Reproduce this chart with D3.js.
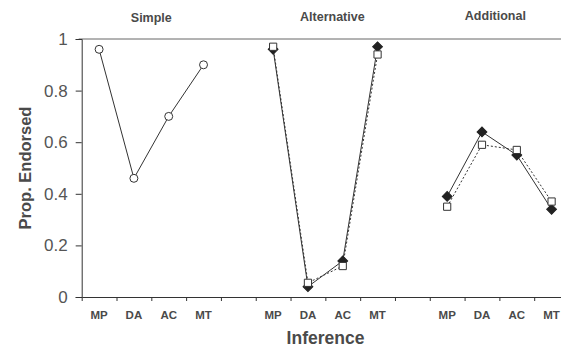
<!DOCTYPE html>
<html>
<head>
<meta charset="utf-8">
<script src="https://cdn.jsdelivr.net/npm/d3@7"></script>
<style>
  body { margin: 0; background: #fff; }
  svg { display: block; font-family: "Liberation Sans", Arial, sans-serif; }
</style>
</head>
<body>
<div id="chart"></div>
<script>
// data
const groups = ["Simple", "Alternative", "Additional"];
const inferences = ["MP", "DA", "AC", "MT"];
const yTicks = [0, 0.2, 0.4, 0.6, 0.8, 1];

const simpleVals = [0.96, 0.46, 0.70, 0.90];
const altDiamond = [0.96, 0.04, 0.14, 0.97];
const altSquare = [0.97, 0.055, 0.12, 0.94];
const addDiamond = [0.39, 0.64, 0.55, 0.34];
const addSquare = [0.35, 0.59, 0.57, 0.37];

const width = 561, height = 349;
const margin = { top: 39, left: 81.7, bottom: 52 };
const plotRight = 569;   // last slot runs past the picture edge

const svg = d3.select('#chart').append('svg')
    .attr('width', width)
    .attr('height', height);

// 3 groups x 4 inferences with one empty slot between groups
const slots = d3.range(groups.length * 5 - 1);
const x = d3.scaleBand().domain(slots).range([margin.left, plotRight]).padding(0);
const xEdge = d3.scaleLinear().domain([0, slots.length]).range([margin.left, plotRight]);
const y = d3.scaleLinear().domain([0, 1]).range([height - margin.bottom, margin.top]);

const slotOf = (g, i) => g * 5 + i;
const cx = (g, i) => x(slotOf(g, i)) + x.bandwidth() / 2;

const ink = "#333";
const textInk = "#4a4a4a";

// top frame line
svg.append('line')
    .attr('x1', margin.left - 3).attr('x2', width)
    .attr('y1', y(1)).attr('y2', y(1))
    .attr('stroke', '#666').attr('stroke-width', 1);

// y axis
const yAxis = svg.append('g')
    .attr('transform', `translate(${margin.left},0)`)
    .call(d3.axisLeft(y).tickValues(yTicks).tickFormat(d3.format('')).tickSize(6).tickPadding(8));
yAxis.select('.domain').attr('stroke', ink);
yAxis.selectAll('.tick line').attr('stroke', ink);
yAxis.selectAll('.tick text')
    .style('font-size', '17px')
    .attr('fill', '#555');

// x axis: ticks between the slots
const xAxis = svg.append('g')
    .attr('transform', `translate(0,${y(0)})`)
    .call(d3.axisBottom(xEdge).tickValues(d3.range(1, slots.length)).tickFormat('').tickSizeOuter(0).tickSize(4));
xAxis.select('.domain').attr('stroke', ink);
xAxis.selectAll('.tick line').attr('stroke', ink);

// category labels
groups.forEach((g, gi) => {
    svg.append('g').selectAll('text')
        .data(inferences)
        .join('text')
        .attr('x', (d, i) => cx(gi, i))
        .attr('y', y(0) + 22)
        .attr('text-anchor', 'middle')
        .style('font-size', '11.5px')
        .style('font-weight', 'bold')
        .attr('fill', textInk)
        .text(d => d);
});

// group titles
const titleShift = [0, 7, -4];
svg.append('g').selectAll('text')
    .data(groups)
    .join('text')
    .attr('x', (d, gi) => (cx(gi, 0) + cx(gi, 3)) / 2 + titleShift[gi])
    .attr('y', (d, gi) => 22 - gi)
    .attr('text-anchor', 'middle')
    .style('font-size', '12.5px')
    .style('font-weight', 'bold')
    .attr('fill', textInk)
    .text(d => d);

// axis titles
svg.append('text')
    .attr('x', 325.5).attr('y', 344)
    .attr('text-anchor', 'middle')
    .style('font-size', '17.5px')
    .style('font-weight', 'bold')
    .attr('fill', textInk)
    .text('Inference');

svg.append('text')
    .attr('transform', `translate(31,${y(0.5)}) rotate(-90)`)
    .attr('text-anchor', 'middle')
    .style('font-size', '16.5px')
    .style('font-weight', 'bold')
    .attr('fill', textInk)
    .text('Prop. Endorsed');

// series
const line = d3.line().x(d => d[0]).y(d => d[1]);
function series(gi, vals, dash) {
    const pts = vals.map((v, i) => [cx(gi, i), y(v)]);
    svg.append('path')
        .attr('d', line(pts))
        .attr('fill', 'none')
        .attr('stroke', ink)
        .attr('stroke-width', 1)
        .attr('stroke-dasharray', dash ? '2,2' : null);
    return pts;
}

const circleSym = d3.symbol().type(d3.symbolCircle).size(50);
const squareSym = d3.symbol().type(d3.symbolSquare).size(52);
const diamondSym = d3.symbol().type(d3.symbolSquare).size(48);

function markers(pts, sym, filled, rot) {
    svg.append('g').selectAll('path')
        .data(pts)
        .join('path')
        .attr('d', sym)
        .attr('transform', d => `translate(${d[0]},${d[1]}) rotate(${rot || 0})`)
        .attr('fill', filled ? '#222' : '#fff')
        .attr('stroke', filled ? '#222' : ink)
        .attr('stroke-width', 1);
}

// Simple
markers(series(0, simpleVals, false), circleSym, false);

// Alternative and Additional: filled diamond (solid) and open square (dotted)
[[1, altDiamond, altSquare], [2, addDiamond, addSquare]].forEach(([gi, dia, sq]) => {
    const pd = series(gi, dia, false);
    const ps = series(gi, sq, true);
    markers(pd, diamondSym, true, 45);
    markers(ps, squareSym, false);
});
</script>
</body>
</html>
